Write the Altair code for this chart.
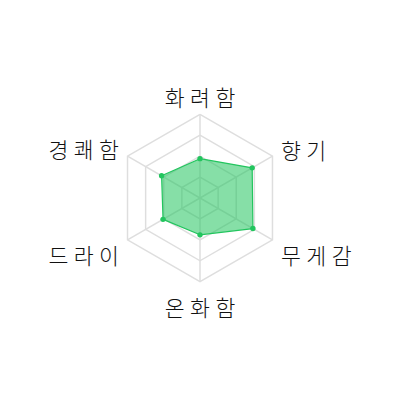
import math
import altair as alt
import pandas as pd

# ---- data ----
categories = ["화려함", "향기", "무게감", "온화함", "드라이", "경쾌함"]
values = [47, 72, 73, 44, 51, 53]
grid_levels = [25, 50, 75, 100]
max_value = 100

# ---- geometry helpers (scale: value -> pixel radius) ----
R_PX = 85.0
LABEL_R = 95.0
n = len(categories)
angles = [2 * math.pi * i / n for i in range(n)]  # clockwise from top


def pt(r, a):
    return r * math.sin(a), r * math.cos(a)


# grid rings
ring_rows = []
for lvl in grid_levels:
    r = lvl / max_value * R_PX
    for i in range(n + 1):
        x, y = pt(r, angles[i % n])
        ring_rows.append({"level": lvl, "i": i, "x": x, "y": y})
rings = pd.DataFrame(ring_rows)

# spokes
spoke_rows = []
for i, a in enumerate(angles):
    x, y = pt(R_PX, a)
    spoke_rows.append({"cat": categories[i], "x": 0.0, "y": 0.0, "x2": x, "y2": y})
spokes = pd.DataFrame(spoke_rows)

# data polygon
poly_rows = []
for i in range(n + 1):
    k = i % n
    x, y = pt(values[k] / max_value * R_PX, angles[k])
    poly_rows.append({"cat": categories[k], "value": values[k], "i": i, "x": x, "y": y})
poly = pd.DataFrame(poly_rows)
points = poly.iloc[:n]

# labels
label_rows = []
for i, a in enumerate(angles):
    x, y = pt(LABEL_R, a)
    deg = round(math.degrees(a))
    if deg == 0:
        pos = "top"
    elif deg == 180:
        pos = "bottom"
    elif deg < 90:
        pos = "ur"
    elif deg < 180:
        pos = "lr"
    elif deg < 270:
        pos = "ll"
    else:
        pos = "ul"
    label_rows.append({"cat": categories[i], "shown": "\u2005".join(categories[i]),
                       "x": x, "y": y, "pos": pos})
labels = pd.DataFrame(label_rows)

xs = alt.Scale(domain=[-195, 195])
ys = alt.Scale(domain=[-190, 190])
X = alt.X("x:Q", scale=xs, axis=None)
Y = alt.Y("y:Q", scale=ys, axis=None)

GRID = "#dedede"
GREEN = "#22c55e"

ring_layer = alt.Chart(rings).mark_line(stroke=GRID, strokeWidth=1.5).encode(
    x=X, y=Y, detail="level:N", order="i:Q"
)
spoke_layer = alt.Chart(spokes).mark_rule(stroke=GRID, strokeWidth=1.5).encode(
    x=X, y=Y, x2="x2:Q", y2="y2:Q"
)
poly_layer = alt.Chart(poly).mark_line(
    fill=GREEN, fillOpacity=0.55, stroke=GREEN, strokeWidth=1.2, strokeJoin="round"
).encode(x=X, y=Y, order="i:Q")
point_layer = alt.Chart(points).mark_circle(size=30, color=GREEN, opacity=1).encode(
    x=X, y=Y
)

font = dict(font="Noto Sans CJK KR", fontSize=22, fontWeight=300, color="#111111")
label_specs = {
    "top": ("center", "bottom", 7),
    "bottom": ("center", "top", 8),
    "ur": ("left", "bottom", 13),
    "lr": ("left", "top", 3),
    "ll": ("right", "top", 3),
    "ul": ("right", "bottom", 12),
}
label_layers = []
for pos, (al, bl, dy) in label_specs.items():
    label_layers.append(
        alt.Chart(labels)
        .transform_filter(alt.datum.pos == pos)
        .mark_text(align=al, baseline=bl, dy=dy, **font)
        .encode(x=X, y=Y, text="shown:N")
    )

chart = (
    alt.layer(ring_layer, spoke_layer, poly_layer, point_layer, *label_layers)
    .properties(width=390, height=380, autosize="none", padding=0)
    .configure_view(stroke=None)
)

chart.save("out.html", embed_options={"renderer": "svg", "actions": False})
